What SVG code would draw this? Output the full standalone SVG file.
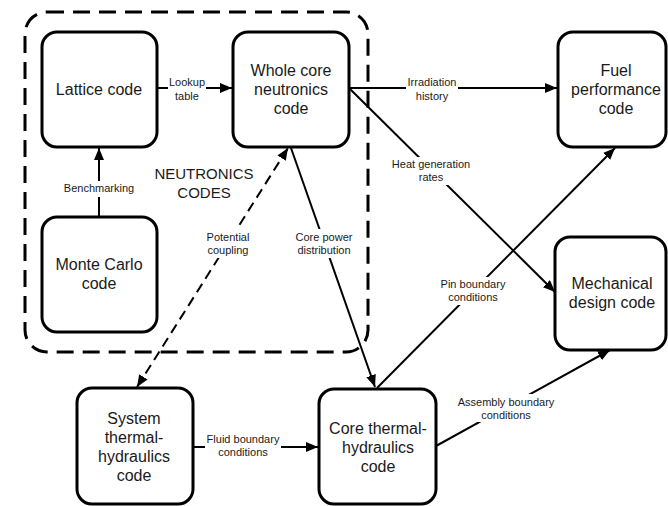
<svg xmlns="http://www.w3.org/2000/svg" width="668" height="506" viewBox="0 0 668 506">
<style>
.box{fill:#fff;stroke:#000;stroke-width:3}
.nt{font-family:"Liberation Sans",Arial,sans-serif;font-size:16px;fill:#1a1a1a;text-anchor:middle}
.lt{font-family:"Liberation Sans",Arial,sans-serif;font-size:11px;fill:#1a1a1a;text-anchor:middle}
.ln{fill:none;stroke:#000;stroke-width:2}
.dl{fill:none;stroke:#000;stroke-width:2;stroke-dasharray:10 6}
.bg{fill:#fff}
</style>
<defs>
<marker id="ah" viewBox="0 0 12 10" refX="12" refY="5" markerWidth="12" markerHeight="10" markerUnits="userSpaceOnUse" orient="auto-start-reverse"><path d="M0,0 L12,5 L0,10 z" fill="#000"/></marker>
</defs>
<rect width="668" height="506" fill="#fff"/>
<g id="neutronics-group">
<rect x="25" y="12" width="343" height="340" rx="22" fill="none" stroke="#000" stroke-width="3" stroke-dasharray="17 9"/>
<text class="nt" x="204" y="179" style="font-size:15px">NEUTRONICS</text>
<text class="nt" x="204" y="198" style="font-size:15px">CODES</text>
</g>
<g id="connectors">
<line class="ln" x1="157" y1="88" x2="232" y2="88" marker-end="url(#ah)"/>
<line class="ln" x1="99" y1="217" x2="99" y2="148" marker-end="url(#ah)"/>
<line class="ln" x1="349" y1="88" x2="557" y2="88" marker-end="url(#ah)"/>
<line class="ln" x1="349" y1="88" x2="555" y2="292" marker-end="url(#ah)"/>
<line class="dl" x1="137" y1="387" x2="288" y2="148" marker-start="url(#ah)" marker-end="url(#ah)"/>
<line class="ln" x1="291" y1="148" x2="375" y2="387" marker-end="url(#ah)"/>
<line class="ln" x1="377" y1="388" x2="615" y2="148" marker-end="url(#ah)"/>
<line class="ln" x1="436" y1="446" x2="610" y2="350" marker-end="url(#ah)"/>
<line class="ln" x1="193" y1="447" x2="318" y2="447" marker-end="url(#ah)"/>
<rect class="bg" x="168" y="76" width="38" height="28"/>
<text class="lt" x="187" y="86">Lookup</text><text class="lt" x="187" y="99.5">table</text>
<rect class="bg" x="62" y="181" width="74" height="16"/>
<text class="lt" x="99" y="192">Benchmarking</text>
<rect class="bg" x="406" y="76" width="52" height="28"/>
<text class="lt" x="432" y="86">Irradiation</text><text class="lt" x="432" y="99.5">history</text>
<rect class="bg" x="390" y="157" width="82" height="28"/>
<text class="lt" x="431" y="168">Heat generation</text><text class="lt" x="431" y="181">rates</text>
<rect class="bg" x="205" y="229" width="46" height="29"/>
<text class="lt" x="228" y="241">Potential</text><text class="lt" x="228" y="254">coupling</text>
<rect class="bg" x="296" y="229" width="57" height="29"/>
<text class="lt" x="324" y="241">Core power</text><text class="lt" x="324" y="254">distribution</text>
<rect class="bg" x="438" y="277" width="70" height="28"/>
<text class="lt" x="473" y="288">Pin boundary</text><text class="lt" x="473" y="301">conditions</text>
<rect class="bg" x="456" y="394" width="100" height="28"/>
<text class="lt" x="506" y="406">Assembly boundary</text><text class="lt" x="506" y="419">conditions</text>
<rect class="bg" x="205" y="432" width="76" height="28"/>
<text class="lt" x="243" y="443">Fluid boundary</text><text class="lt" x="243" y="456">conditions</text>
</g>
<g id="lattice">
<rect class="box" x="42" y="32" width="115" height="115" rx="15"/>
<text class="nt" x="99" y="95">Lattice code</text>
</g>
<g id="whole-core">
<rect class="box" x="233" y="32" width="116" height="115" rx="15"/>
<text class="nt" x="291" y="76">Whole core</text><text class="nt" x="291" y="95">neutronics</text><text class="nt" x="291" y="114">code</text>
</g>
<g id="monte-carlo">
<rect class="box" x="42" y="217" width="115" height="115" rx="15"/>
<text class="nt" x="99" y="270">Monte Carlo</text><text class="nt" x="99" y="289">code</text>
</g>
<g id="fuel-performance">
<rect class="box" x="558" y="32" width="108" height="115" rx="15"/>
<text class="nt" x="616" y="76">Fuel</text><text class="nt" x="616" y="95">performance</text><text class="nt" x="616" y="114">code</text>
</g>
<g id="mechanical">
<rect class="box" x="555" y="237" width="111" height="113" rx="15"/>
<text class="nt" x="612" y="289">Mechanical</text><text class="nt" x="612" y="308">design code</text>
</g>
<g id="system-th">
<rect class="box" x="77" y="388" width="116" height="116" rx="15"/>
<text class="nt" x="134" y="424">System</text><text class="nt" x="134" y="443">thermal-</text><text class="nt" x="134" y="462">hydraulics</text><text class="nt" x="134" y="481">code</text>
</g>
<g id="core-th">
<rect class="box" x="319" y="389" width="117" height="115" rx="15"/>
<text class="nt" x="378" y="434">Core thermal-</text><text class="nt" x="378" y="453">hydraulics</text><text class="nt" x="378" y="472">code</text>
</g>
</svg>
